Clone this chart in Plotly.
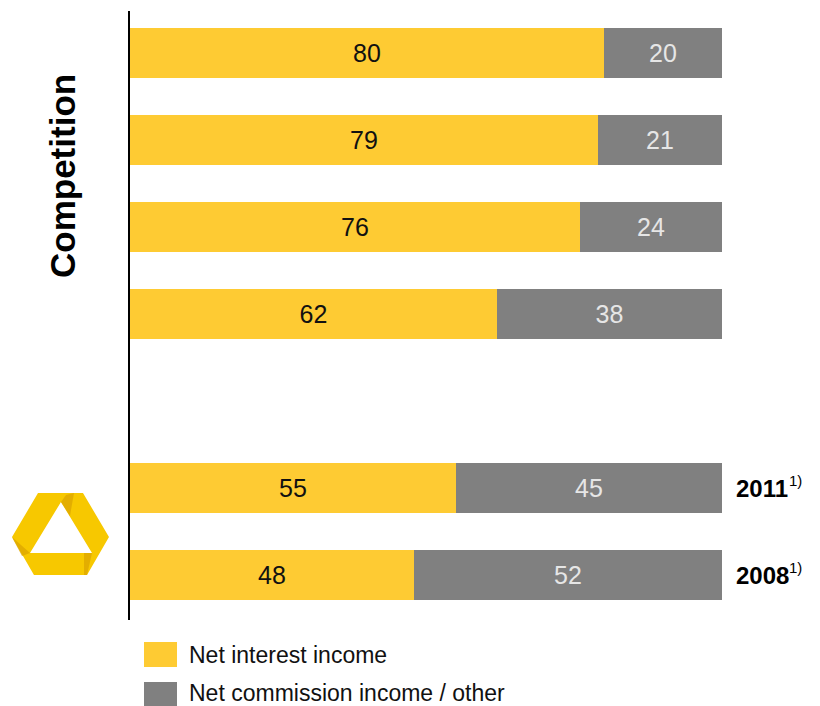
import plotly.graph_objects as go

# Revenue mix (%), top to bottom; slot 4 is an empty spacer row
rows = [0, 1, 2, 3, 5, 6]
net_interest = [80, 79, 76, 62, 55, 48]
net_commission = [20, 21, 24, 38, 45, 52]
year_rows = [5, 6]
year_labels = ["2011", "2008"]
footnote = "1)"
legend_names = ["Net interest income", "Net commission income / other"]

YELLOW = "#FECB33"
GREY = "#808080"
FONT = "Liberation Sans, Arial, sans-serif"

W, H = 820, 706
L, R, T, B = 130, 98, 11, 86
PW, PH = W - L - R, H - T - B


def px(x, y):
    """Pixel position -> paper coordinates."""
    return (x - L) / PW, (H - B - y) / PH


def path(points):
    pts = [px(x, y) for x, y in points]
    return "M " + " L ".join(f"{a:.4f},{b:.4f}" for a, b in pts) + " Z"


fig = go.Figure()
fig.add_bar(
    y=rows, x=net_interest, orientation="h", name=legend_names[0],
    marker=dict(color=YELLOW, line=dict(width=0)), width=0.57,
    text=net_interest, textposition="inside", insidetextanchor="middle",
    textangle=0, textfont=dict(family=FONT, size=25, color="#111111"),
)
fig.add_bar(
    y=rows, x=net_commission, orientation="h", name=legend_names[1],
    marker=dict(color=GREY, line=dict(width=0)), width=0.57,
    text=net_commission, textposition="inside", insidetextanchor="middle",
    textangle=0, textfont=dict(family=FONT, size=25, color="#E6E6E6"),
)

shapes = []
annotations = []

# Legend drawn by hand: large swatches with labels
for i, (name, col) in enumerate(zip(legend_names, [YELLOW, GREY])):
    y0 = 642 + i * 40
    x0p, y0p = px(144, y0)
    x1p, y1p = px(177, y0 + 25)
    shapes.append(dict(type="rect", xref="paper", yref="paper",
                       x0=x0p, x1=x1p, y0=y1p, y1=y0p,
                       fillcolor=col, line=dict(width=0)))
    tx, ty = px(188, y0 + 13 - 2 * i)
    annotations.append(dict(xref="paper", yref="paper", x=tx, y=ty,
                            xanchor="left", yanchor="middle", showarrow=False,
                            borderpad=0,
                            text=name, font=dict(family=FONT, size=23, color="#111111")))

# Year labels next to the bank's own bars, each with a footnote marker
for r, lab in zip(year_rows, year_labels):
    annotations.append(dict(xref="paper", yref="y", x=1, y=r, xshift=12,
                            xanchor="left", yanchor="middle", showarrow=False,
                            text=f"<b>{lab}</b>",
                            font=dict(family=FONT, size=24, color="#000000")))
    annotations.append(dict(xref="paper", yref="y", x=1, y=r, xshift=65, yshift=8,
                            xanchor="left", yanchor="middle", showarrow=False,
                            text=footnote,
                            font=dict(family=FONT, size=15, color="#000000")))

# Rotated group title
cx, cy = px(62, 176)
annotations.append(dict(xref="paper", yref="paper", x=cx, y=cy, textangle=-90,
                        xanchor="center", yanchor="middle", showarrow=False,
                        text="<b>Competition</b>",
                        font=dict(family=FONT, size=35, color="#000000")))

# Ribbon logo: hexagonal band around a triangular opening
outer = [(38, 493), (83, 493), (109, 537), (87, 575), (34, 575), (12, 537)]
inner = [(61, 502), (30, 553), (92, 553)]
logo_path = path(outer) + " " + path(inner)
shapes.append(dict(type="path", xref="paper", yref="paper", path=logo_path,
                   fillcolor="#F7C800", line=dict(width=0), layer="above"))
# folds of the ribbon, slightly darker
folds = [
    [(61, 502), (66, 495), (74, 493), (70, 516)],
    [(92, 553), (84, 553), (84, 575), (87, 575)],
    [(12, 537), (30, 553), (22, 556), (14, 541)],
]
for f in folds:
    shapes.append(dict(type="path", xref="paper", yref="paper", path=path(f),
                       fillcolor="#DDA800", line=dict(width=0), layer="above",
                       opacity=0.8))

fig.update_layout(
    width=W, height=H, barmode="stack", bargap=0,
    margin=dict(l=L, r=R, t=T, b=B),
    paper_bgcolor="white", plot_bgcolor="white",
    showlegend=False,
    xaxis=dict(range=[0, 100], visible=False, fixedrange=True),
    yaxis=dict(range=[6.517, -0.483], showticklabels=False, showgrid=False,
               zeroline=False, showline=True, linecolor="#000000", linewidth=2,
               ticks=""),
    shapes=shapes, annotations=annotations,
    uniformtext=dict(mode=False),
)

fig.write_html("out.html")
